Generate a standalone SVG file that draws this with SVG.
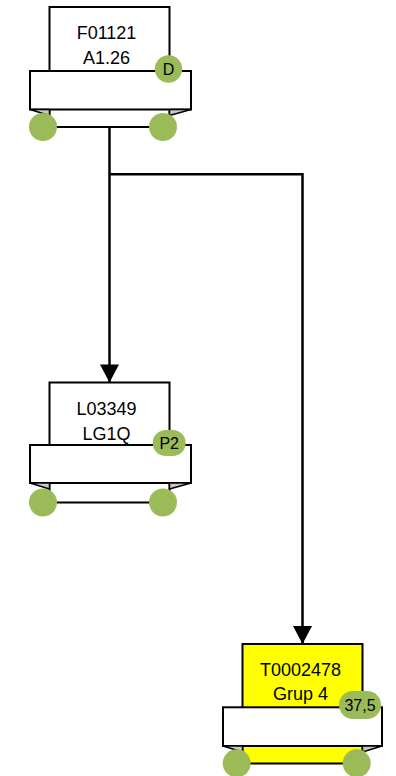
<svg xmlns="http://www.w3.org/2000/svg" width="396" height="776" viewBox="0 0 396 776">
<defs>
<style>
.box{fill:#fff;stroke:#000;stroke-width:2}
.yel{fill:#ffff00;stroke:#000;stroke-width:2}
.band{fill:#fff;stroke:#000;stroke-width:2}
.tri{fill:#c8c8c8;stroke:#000;stroke-width:1.5;stroke-linejoin:round}
.wheel{fill:#9bbb59}
.badge{fill:#9bbb59}
.t{font-family:"Liberation Sans",Arial,sans-serif;font-size:18px;fill:#000;text-anchor:middle}
.bt{font-family:"Liberation Sans",Arial,sans-serif;font-size:16px;fill:#000;text-anchor:middle}
.conn{fill:none;stroke:#000;stroke-width:2.5}
</style>
<marker id="arr" markerWidth="20" markerHeight="19" refX="19" refY="10" orient="auto" markerUnits="userSpaceOnUse" viewBox="0 0 19 20">
<path d="M0,0 L19,10 L0,20 Z" fill="#000"/>
</marker>
</defs>
<g id="connectors">
<path class="conn" d="M109.5,127 V382.5" marker-end="url(#arr)"/>
<path class="conn" d="M109.5,174.3 H302.5 V644" marker-end="url(#arr)"/>
</g>
<g id="node-F01121">
<rect class="box" x="49.5" y="7" width="120" height="120"/>
<rect class="band" x="30" y="71" width="161" height="38.5"/>
<path class="tri" d="M30,109.5 L49.5,109.5 L49.5,115.5 Z"/>
<path class="tri" d="M191,109.5 L169.5,109.5 L169.5,115.5 Z"/>
<circle class="wheel" cx="43" cy="127" r="14"/>
<circle class="wheel" cx="163" cy="127" r="14"/>
<text class="t" x="106.5" y="38.5">F01121</text>
<text class="t" x="106.5" y="64">A1.26</text>
<circle class="badge" cx="168.5" cy="69" r="13.7"/>
<text class="bt" x="168.5" y="74.5">D</text>
</g>
<g id="node-L03349">
<rect class="box" x="49.5" y="382.5" width="120" height="120"/>
<rect class="band" x="30" y="445" width="161" height="38"/>
<path class="tri" d="M30,483 L49.5,483 L49.5,489 Z"/>
<path class="tri" d="M191,483 L169.5,483 L169.5,489 Z"/>
<circle class="wheel" cx="43" cy="502.5" r="14"/>
<circle class="wheel" cx="163" cy="502.5" r="14"/>
<text class="t" x="106.5" y="414.5">L03349</text>
<text class="t" x="106.5" y="439.5">LG1Q</text>
<rect class="badge" x="152.7" y="430" width="33" height="26" rx="13"/>
<text class="bt" x="169.2" y="448.8">P2</text>
</g>
<g id="node-T0002478">
<rect class="yel" x="242.5" y="644" width="120" height="119.5"/>
<rect class="band" x="223" y="707.3" width="159" height="38.7"/>
<path class="tri" d="M223,746 L242.5,746 L242.5,752 Z"/>
<path class="tri" d="M382,746 L362.5,746 L362.5,752 Z"/>
<circle class="wheel" cx="236.7" cy="763.3" r="14"/>
<circle class="wheel" cx="356.7" cy="763.3" r="14"/>
<text class="t" x="300.5" y="676">T0002478</text>
<text class="t" x="300.5" y="700">Grup 4</text>
<rect class="badge" x="339" y="691" width="42" height="28" rx="14"/>
<text class="bt" x="360" y="710.8">37,5</text>
</g>
</svg>
